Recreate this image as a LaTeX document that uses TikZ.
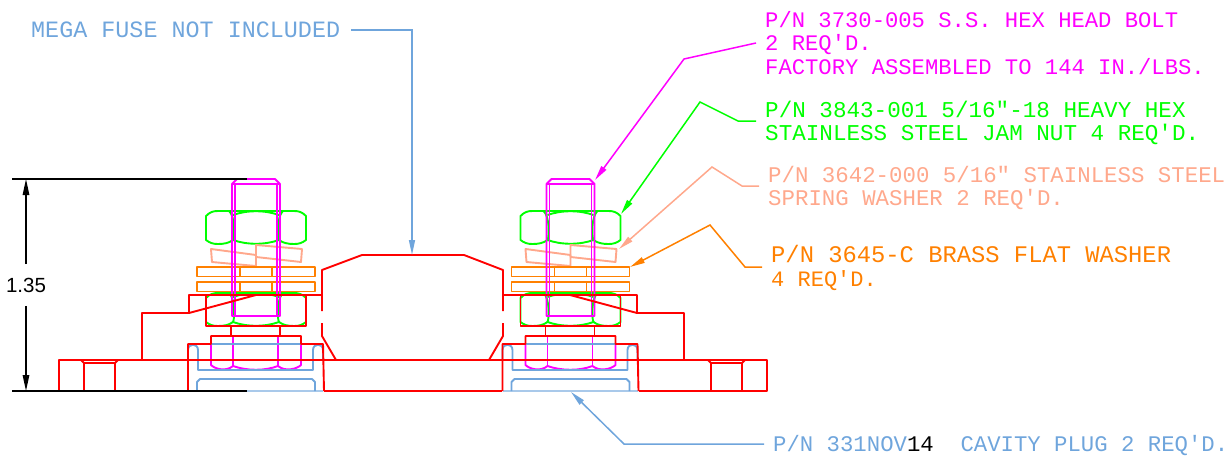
\documentclass[tikz,border=0pt]{standalone}
\usepackage{fontspec}
\setmainfont{Liberation Sans}
\newfontfamily\cadfont{Liberation Mono}
\usetikzlibrary{arrows.meta}
\usetikzlibrary{positioning}
\definecolor{fuseblue}{HTML}{6FA5DC}
\definecolor{boltpink}{HTML}{FF00FF}
\definecolor{nutgreen}{HTML}{00FF00}
\definecolor{springsalmon}{HTML}{FFA88C}
\definecolor{brassorange}{HTML}{FF8000}
\tikzset{
  part/.style={line width=1.9pt, line join=round},
  leader/.style={line width=1.5pt, -{Triangle[length=15pt,width=6pt]}},
  calltext/.style={inner xsep=9pt, inner ysep=0pt, anchor=west, text height=14.5pt, text depth=0pt,
                font=\cadfont\fontsize{#1}{24}\selectfont},
}
\begin{document}
\begin{tikzpicture}[x=1pt,y=-1pt]
    \useasboundingbox (0,0) rectangle (1230,455);
    % bolt, nuts and washers, left one then right one
    \foreach \dx in {0,314.5} {
      \begin{scope}[xshift=\dx pt]
        % upper and lower jam nut
        \foreach \dy in {0,82} {
          \draw [part, nutgreen, yshift=-\dy pt]
            (206,216) .. controls (210,212) and (213,211) .. (218,211) -- (294,211)
            .. controls (299,211) and (302,212) .. (306,216) -- (306,240)
            .. controls (302,243) and (299,244) .. (294,244)
            .. controls (288,244) and (283,243) .. (279,240)
            .. controls (265,245) and (247,245) .. (233,240)
            .. controls (229,243) and (224,244) .. (218,244)
            .. controls (213,244) and (210,243) .. (206,240) -- cycle;
          \draw [part, nutgreen, yshift=-\dy pt]
            (229,211) .. controls (235,216) and (235,236) .. (233,240);
          \draw [part, nutgreen, yshift=-\dy pt]
            (283,211) .. controls (277,216) and (277,236) .. (279,240);
          \draw [part, nutgreen, yshift=-\dy pt]
            (233,215) .. controls (247,210) and (265,210) .. (279,215);
        }
        % spring washer
        \draw [part, springsalmon] (211,249) -- (256,255) -- (256,266) -- (212,262) -- cycle;
        \draw [part, springsalmon] (256,245) -- (302,249) -- (301,262) -- (256,257) -- cycle;
        % flat washers
        \foreach \wy in {267,282} {
          \draw [part, brassorange] (197,\wy) rectangle (315,\wy+9.5);
          \draw [part, brassorange] (240,\wy) -- (240,\wy+9.5) (272,\wy) -- (272,\wy+9.5);
        }
        % bolt
        \draw [part, boltpink] (232,316) -- (232,184) -- (237,179) -- (275,179) -- (280,184) -- (280,316) -- cycle;
        \draw [part, boltpink] (232,184) -- (280,184);
        \draw [part, boltpink] (235,184) -- (235,316) (277,184) -- (277,316);
        % bolt head
        \draw [part, boltpink] (211,344) -- (211,365) .. controls (215,369) and (226,372) .. (233,366)
            .. controls (247,371) and (265,371) .. (278,366) .. controls (285,372) and (297,369) .. (301,365) -- (301,344);
        \draw [part, boltpink] (233,336) -- (233,366) (278,336) -- (278,366);
        % cavity plug
        \draw [part, fuseblue] (188,360) -- (188,350) .. controls (188,343) and (198,343) .. (198,350)
            -- (198,370) -- (313,370) -- (313,350) .. controls (313,343) and (323,343) .. (323,350) -- (323,360);
        \draw [part, fuseblue] (211,344) -- (301,344);
        \draw [part, fuseblue] (197,391) -- (197,382) -- (200,379) -- (312,379) -- (315,382) -- (315,391);
        \draw [part, fuseblue, opacity=0.6] (188,391) -- (323,391);
        % red pocket round the lower nut and head
        \draw [part, red] (206,295) rectangle (306,326);
        \draw [part, red] (231,326) -- (231,336) (280,326) -- (280,336);
        \draw [part, red] (188,391) -- (188,344) -- (211,344) -- (211,336) -- (301,336) -- (301,344) -- (323,344) -- (324,391);
      \end{scope}
    }
    % fuse body
    \draw [part, red] (322,311) -- (322,270) -- (362,255) -- (464,255) -- (503,270) -- (503,311);
    \draw [part, red] (322,323) -- (322,336) -- (336,360);
    \draw [part, red] (503,323) -- (503,336) -- (489,360);
    % stud plate
    \draw [part, red] (142,360) -- (142,313) -- (189,313) -- (189,295) -- (322,295);
    \draw [part, red] (189,313) -- (256,295);
    \draw [part, red] (684,360) -- (684,313) -- (637,313) -- (637,295) -- (503,295);
    \draw [part, red] (637,313) -- (570,295);
    % base
    \draw [part, red] (59,391) -- (59,360) -- (767,360) -- (767,391) -- (639,391);
    \draw [part, red] (59,391) -- (188,391) (324,391) -- (502,391);
    \draw [part, red] (81,360) -- (84,363) -- (115,363) -- (118,360) (84,363) -- (84,391) (115,363) -- (115,391);
    \draw [part, red] (708,360) -- (711,363) -- (742,363) -- (745,360) (711,363) -- (711,391) (742,363) -- (742,391);
    % dimension
    \coordinate (dimtop) at (12,179);
    \coordinate (dimbot) at (12,391);
    \coordinate (dimtopend) at (247,179);
    \coordinate (dimbotend) at (247,391);
    \coordinate (dimtip) at (26,179);
    \coordinate (dimtipb) at (26,391);
    \node [inner xsep=0pt, inner ysep=13.5pt, font=\fontsize{20.5}{22}\selectfont] (dimval) at (26,285) {1.35};
    \draw [line width=1.8pt] (dimtop) -- (dimtopend);
    \draw [line width=1.8pt] (dimbot) -- (dimbotend);
    \draw [line width=1.4pt, -{Triangle[length=16pt,width=6.5pt]}] (dimval.north) -- (dimtip);
    \draw [line width=1.4pt, -{Triangle[length=16pt,width=6.5pt]}] (dimval.south) -- (dimtipb);
    % labels
    \node [calltext=23.4, inner xsep=11pt, text=fuseblue] (megalbl) at (20,30) {MEGA FUSE NOT INCLUDED};
    \node [calltext=22.2, text=boltpink] (bolta) at (756,20) {P/N 3730-005 S.S. HEX HEAD BOLT};
    \node [calltext=22.2, text=boltpink] (boltb) at (756,43) {2 REQ'D.};
    \node [calltext=22.2, text=boltpink] (boltc) at (756,67) {FACTORY ASSEMBLED TO 144 IN./LBS.};
    \node [calltext=22.6, text=nutgreen] (nuta) at (756,110) {P/N 3843-001 5/16"-18 HEAVY HEX};
    \node [calltext=22.6, text=nutgreen] (nutb) at (756,133) {STAINLESS STEEL JAM NUT 4 REQ'D.};
    \node [calltext=22.4, text=springsalmon] (springa) at (759,175) {P/N 3642-000 5/16" STAINLESS STEEL};
    \node [calltext=22.4, text=springsalmon] (springb) at (759,198) {SPRING WASHER 2 REQ'D.};
    \node [calltext=23.8, text=brassorange] (brassa) at (762,255) {P/N 3645-C BRASS FLAT WASHER};
    \node [calltext=22.0, text=brassorange] (brassb) at (762,279) {4 REQ'D.};
    \node [calltext=22.3, text=fuseblue] (pluglbl) at (764,444) {P/N 331NOV\textcolor{black}{14}\ \ CAVITY PLUG 2 REQ'D.};
    % leaders
    \draw [leader, fuseblue] (megalbl.east) -- (412,30) -- (412,255);
    \draw [leader, boltpink] (boltb.west) -- (684,59) -- (595,180);
    \draw [leader, nutgreen] (nuta.west |- 0,121) -- (738,121) -- (700,102) -- (621,214);
    \draw [leader, springsalmon] (springa.west |- 0,186) -- (742,186) -- (712,167) -- (619,249);
    \draw [leader, brassorange] (brassa.west |- 0,267) -- (745,267) -- (710,225) -- (630,267);
    \draw [leader, fuseblue] (pluglbl.west) -- (624,444) -- (571,392);
\end{tikzpicture}
\end{document}
